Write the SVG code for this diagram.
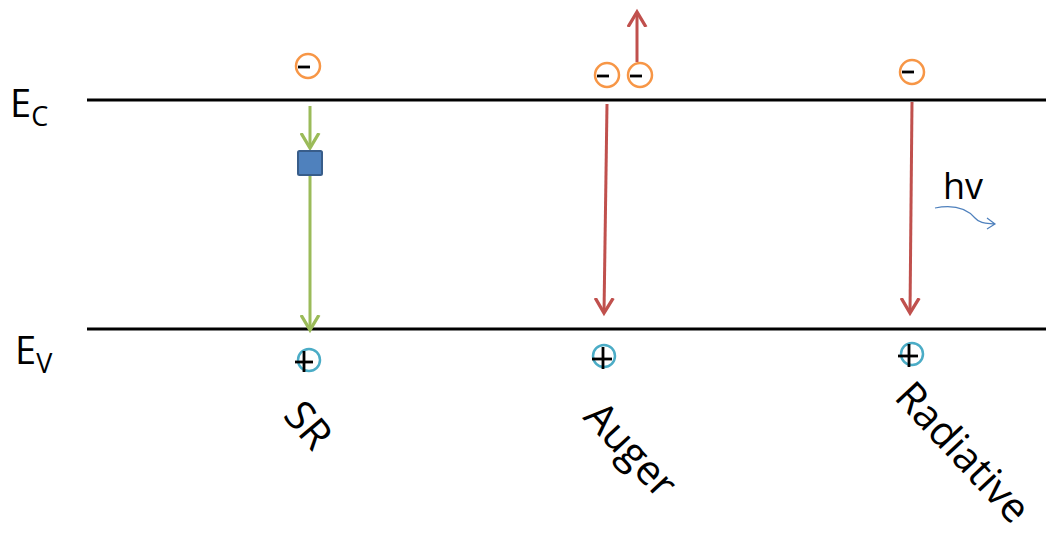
<svg xmlns="http://www.w3.org/2000/svg" width="1046" height="542" viewBox="0 0 1046 542">
<defs>
<style>
.band{stroke:#000;stroke-width:3}
.el{fill:#fff;stroke:#F79646;stroke-width:2.5}
.ho{fill:#fff;stroke:#4BACC6;stroke-width:2.5}
.sign{stroke:#000;stroke-width:2.8}
.g{stroke:#9BBB59;stroke-width:3;fill:none}
.r{stroke:#C0504D;stroke-width:3;fill:none}
.t{font-family:"Open Sans","Liberation Sans",sans-serif;fill:#000}
</style>
<marker id="ag" markerWidth="7" markerHeight="7" refX="5" refY="3.5" orient="auto" markerUnits="strokeWidth"><path d="M0,0.5 L5,3.5 L0,6.5" fill="none" stroke="#9BBB59" stroke-width="1.1"/></marker>
<marker id="ar" markerWidth="7" markerHeight="7" refX="5" refY="3.5" orient="auto" markerUnits="strokeWidth"><path d="M0,0.5 L5,3.5 L0,6.5" fill="none" stroke="#C0504D" stroke-width="1.1"/></marker>
</defs>
<g id="bands">
<line class="band" x1="87" y1="100" x2="1046" y2="100"/>
<line class="band" x1="87" y1="329" x2="1046" y2="329"/>
<text class="t" x="10" y="117" font-size="38">E<tspan font-size="27" dy="9">C</tspan></text>
<text class="t" x="15" y="364" font-size="38">E<tspan font-size="27" dy="9">V</tspan></text>
</g>
<g id="connectors">
<line class="g" x1="310" y1="106" x2="310" y2="148" marker-end="url(#ag)"/>
<line class="g" x1="310" y1="176" x2="310" y2="330" marker-end="url(#ag)"/>
<line class="r" x1="607" y1="104" x2="604" y2="313" marker-end="url(#ar)"/>
<line class="r" x1="637" y1="62" x2="637" y2="12" marker-end="url(#ar)"/>
<line class="r" x1="912" y1="102" x2="910" y2="313" marker-end="url(#ar)"/>
</g>
<g id="sr">
<circle class="el" cx="308" cy="66" r="12"/>
<line class="sign" x1="298" y1="67" x2="310" y2="67"/>
<rect x="298" y="151" width="24" height="24" rx="1.5" fill="#4F81BD" stroke="#385D8A" stroke-width="2"/>
<circle class="ho" cx="309" cy="360" r="11"/>
<line class="sign" x1="295" y1="362" x2="313" y2="362"/>
<line class="sign" x1="304" y1="351" x2="304" y2="372"/>
<text class="t" font-size="41" transform="translate(282,416) rotate(50)">SR</text>
</g>
<g id="auger">
<circle class="el" cx="607" cy="75" r="12"/>
<line class="sign" x1="597" y1="76" x2="609" y2="76"/>
<circle class="el" cx="640" cy="75" r="12"/>
<line class="sign" x1="630" y1="76" x2="642" y2="76"/>
<circle class="ho" cx="604" cy="356" r="11"/>
<line class="sign" x1="592" y1="359" x2="612" y2="359"/>
<line class="sign" x1="603" y1="347" x2="603" y2="369"/>
<text class="t" font-size="41" transform="translate(582,418) rotate(47)">Auger</text>
</g>
<g id="radiative">
<circle class="el" cx="912" cy="72" r="12"/>
<line class="sign" x1="902" y1="72" x2="914" y2="72"/>
<circle class="ho" cx="912" cy="354" r="11"/>
<line class="sign" x1="898" y1="356" x2="918" y2="356"/>
<line class="sign" x1="909" y1="344" x2="909" y2="367"/>
<text class="t" font-size="41" transform="translate(893,398) rotate(47)">Radiative</text>
<text class="t" font-size="36" x="943" y="199">hv</text>
<path d="M935,208 C955,204 968,210 975,218 C980,224 988,223 995,224 M987,218 L995,224 L987,229" fill="none" stroke="#4F81BD" stroke-width="1.2"/>
</g>
</svg>
